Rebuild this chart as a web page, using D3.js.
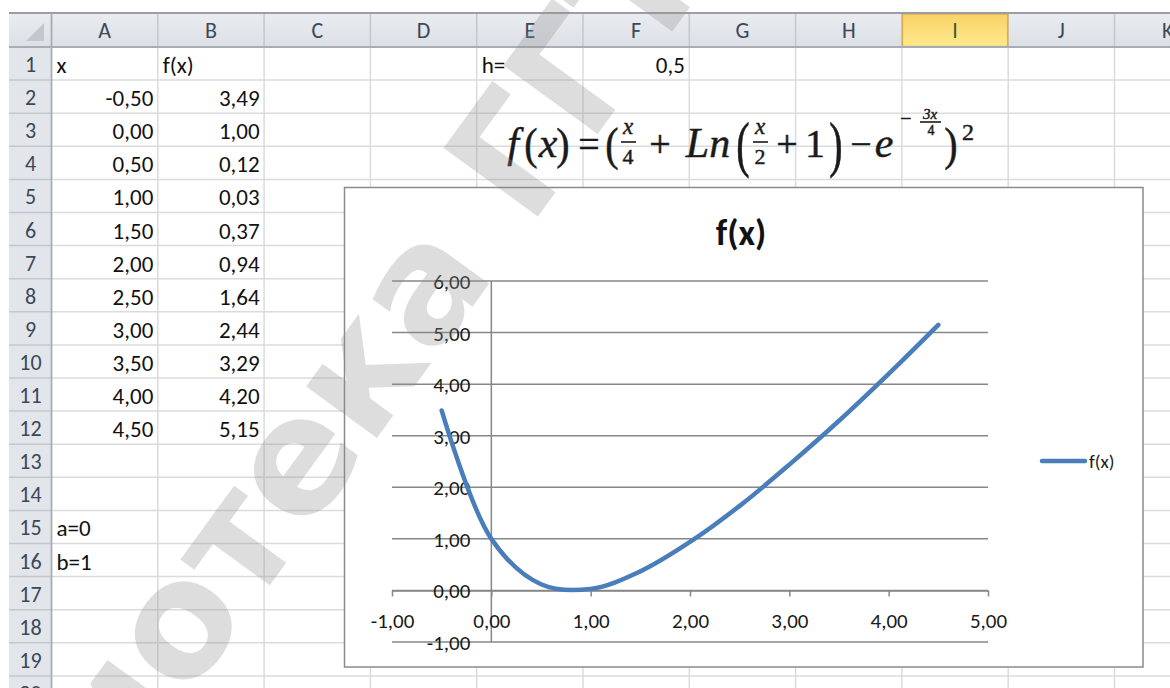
<!DOCTYPE html>
<html>
<head>
<meta charset="utf-8">
<script src="https://cdn.jsdelivr.net/npm/d3@7"></script>
<style>
  html, body { margin: 0; padding: 0; background: #ffffff; }
  svg { display: block; }
</style>
</head>
<body>
<svg id="sheet" width="1170" height="688"></svg>
<script>
// ---- data ----
const xValues = [-0.5, 0, 0.5, 1, 1.5, 2, 2.5, 3, 3.5, 4, 4.5];
const fValues = [3.49, 1.00, 0.12, 0.03, 0.37, 0.94, 1.64, 2.44, 3.29, 4.20, 5.15];
const columnLetters = ["A", "B", "C", "D", "E", "F", "G", "H", "I", "J", "K"];
const rowNumbers = d3.range(1, 21);
const xTicks = [-1, 0, 1, 2, 3, 4, 5];
const yTicks = [-1, 0, 1, 2, 3, 4, 5, 6];
const seriesName = "f(x)";
const stepLabel = "h=";
const stepValue = 0.5;
const boundLabels = ["a=0", "b=1"];
const selectedColumn = "I";

// ---- helpers ----
const ru = d3.formatLocale({ decimal: ",", thousands: " ", grouping: [3], currency: ["", " ₽"], minus: "-" });
const fmt2 = ru.format(".2f");
const fmtStep = ru.format(".1f");

const svg = d3.select("#sheet");
const W = 1170, H = 688;
const uiFont = "Carlito, Calibri, Roboto, sans-serif";

// ---- spreadsheet grid ----
const sheetLeft = 9, headTop = 13, headBottom = 47, rowHeadRight = 51.5;
const colW = 106.3, rowH = 33.1;
const colX = i => rowHeadRight + i * colW;
const rowY = r => headBottom + (r - 1) * rowH;

const defs = svg.append("defs");
const hg = defs.append("linearGradient").attr("id", "headGrad").attr("x1", 0).attr("y1", 0).attr("x2", 0).attr("y2", 1);
hg.append("stop").attr("offset", "0%").attr("stop-color", "#e9ecf0");
hg.append("stop").attr("offset", "100%").attr("stop-color", "#dce0e6");
const sg = defs.append("linearGradient").attr("id", "selGrad").attr("x1", 0).attr("y1", 0).attr("x2", 0).attr("y2", 1);
sg.append("stop").attr("offset", "0%").attr("stop-color", "#f8d266");
sg.append("stop").attr("offset", "100%").attr("stop-color", "#feea8e");

svg.append("rect").attr("width", W).attr("height", H).attr("fill", "#ffffff");

// cell gridlines
const grid = svg.append("g").attr("stroke", "#dadbdc").attr("stroke-width", 1.5);
columnLetters.forEach((c, i) => {
  grid.append("line").attr("x1", colX(i + 1)).attr("x2", colX(i + 1)).attr("y1", headBottom).attr("y2", H);
});
rowNumbers.forEach(r => {
  grid.append("line").attr("x1", rowHeadRight).attr("x2", W).attr("y1", rowY(r + 1)).attr("y2", rowY(r + 1));
});

// column and row headers
svg.append("rect").attr("x", sheetLeft).attr("y", headTop).attr("width", W - sheetLeft).attr("height", headBottom - headTop).attr("fill", "url(#headGrad)");
svg.append("rect").attr("x", sheetLeft).attr("y", headBottom).attr("width", rowHeadRight - sheetLeft).attr("height", H - headBottom).attr("fill", "#e2e6eb");

const headLines = svg.append("g").attr("stroke", "#c3c8cf").attr("stroke-width", 1.5);
columnLetters.forEach((c, i) => {
  headLines.append("line").attr("x1", colX(i + 1)).attr("x2", colX(i + 1)).attr("y1", headTop).attr("y2", headBottom);
});
rowNumbers.forEach(r => {
  headLines.append("line").attr("x1", sheetLeft).attr("x2", rowHeadRight).attr("y1", rowY(r + 1)).attr("y2", rowY(r + 1));
});

const si = columnLetters.indexOf(selectedColumn);
svg.append("rect").attr("x", colX(si) + 0.5).attr("y", headTop + 1).attr("width", colW - 1).attr("height", headBottom - headTop - 1.5)
  .attr("fill", "url(#selGrad)").attr("stroke", "#dfae4c").attr("stroke-width", 1.5);

svg.append("line").attr("x1", sheetLeft).attr("x2", W).attr("y1", headTop).attr("y2", headTop).attr("stroke", "#9b9ea3").attr("stroke-width", 2);
svg.append("line").attr("x1", sheetLeft).attr("x2", W).attr("y1", headBottom).attr("y2", headBottom).attr("stroke", "#a7adb5").attr("stroke-width", 1.8);
svg.append("line").attr("x1", rowHeadRight).attr("x2", rowHeadRight).attr("y1", headTop).attr("y2", H).attr("stroke", "#a7adb5").attr("stroke-width", 1.8);
svg.append("path").attr("d", "M26,41 L44,41 L44,23 Z").attr("fill", "#c3c7cd");

svg.append("g").selectAll("text").data(columnLetters).join("text")
  .attr("x", (d, i) => colX(i) + colW / 2).attr("y", 38)
  .attr("text-anchor", "middle").attr("font-family", uiFont).attr("font-size", 22)
  .attr("fill", d => d === selectedColumn ? "#3f5a3c" : "#3b4859").text(d => d);

svg.append("g").selectAll("text").data(rowNumbers).join("text")
  .attr("x", 30.5).attr("y", r => rowY(r) + 25)
  .attr("text-anchor", "middle").attr("font-family", uiFont).attr("font-size", 22)
  .attr("fill", "#3b4859").text(r => r);

// cell contents
const cells = svg.append("g").attr("font-family", uiFont).attr("font-size", 23).attr("fill", "#111");
const cellText = (col, row, txt, align) => {
  const ci = columnLetters.indexOf(col);
  cells.append("text")
    .attr("x", align === "right" ? colX(ci + 1) - 4.5 : colX(ci) + 5)
    .attr("y", rowY(row) + 26)
    .attr("text-anchor", align === "right" ? "end" : "start")
    .text(txt);
};
cellText("A", 1, "x", "left");
cellText("B", 1, seriesName, "left");
xValues.forEach((v, i) => cellText("A", i + 2, fmt2(v), "right"));
fValues.forEach((v, i) => cellText("B", i + 2, fmt2(v), "right"));
cellText("E", 1, stepLabel, "left");
cellText("F", 1, fmtStep(stepValue), "right");
cellText("A", 15, boundLabels[0], "left");
cellText("A", 16, boundLabels[1], "left");

// ---- formula object ----
const fm = svg.append("g").attr("font-family", "'Liberation Serif', 'DejaVu Serif', serif")
  .attr("fill", "#1a1a1a").attr("stroke", "#1a1a1a").attr("stroke-width", 0.45);
const put = (x, y, s, size, italic, sy) => {
  const t = fm.append("text").attr("text-anchor", "middle").attr("font-size", size)
    .attr("font-style", italic ? "italic" : "normal").text(s);
  if (sy) {
    t.attr("transform", `translate(${x},145) scale(1,${sy})`).attr("x", 0).attr("y", y);
  } else {
    t.attr("x", x).attr("y", y);
  }
};
const bar = (x1, x2, y) => fm.append("line").attr("x1", x1).attr("x2", x2).attr("y1", y).attr("y2", y).attr("stroke", "#1a1a1a").attr("stroke-width", 1.6);
const base = 157;
put(513, base, "f", 42, true);
put(531, 13, "(", 40, false, 1.1);
put(548, base, "x", 42, true);
put(563, 13, ")", 40, false, 1.1);
put(589, base, "=", 38, false);
put(612, 13, "(", 40, false, 1.15);
put(628, 134, "x", 23, true); bar(621, 636, 142); put(628, 164, "4", 22, false);
put(660, base, "+", 38, false);
put(708, base, "Ln", 42, true);
put(743, 13, "(", 40, false, 1.55);
put(760, 134, "x", 23, true); bar(753, 768, 142); put(760, 164, "2", 22, false);
put(787, base, "+", 38, false);
put(815, base, "1", 40, false);
put(836, 13, ")", 40, false, 1.55);
put(861, base, "−", 38, false);
put(884, base, "e", 42, true);
put(906, 125, "−", 20, false);
put(930, 119, "3x", 15, true); bar(920, 941, 122); put(931, 135, "4", 14, false);
put(951, 13, ")", 40, false, 1.15);
put(968, 140, "2", 24, false);

// ---- chart object ----
const chart = svg.append("g");
chart.append("rect").attr("x", 344.5).attr("y", 187.5).attr("width", 798.5).attr("height", 479.5)
  .attr("fill", "#ffffff").attr("stroke", "#8a8a8a").attr("stroke-width", 1.5);

const x = d3.scaleLinear().domain([-1, 5]).range([392, 988]);
const y = d3.scaleLinear().domain([-1, 6]).range([642, 281]);

// horizontal gridlines
chart.append("g").selectAll("line").data(yTicks).join("line")
  .attr("x1", x(-1)).attr("x2", x(5)).attr("y1", d => y(d)).attr("y2", d => y(d))
  .attr("stroke", "#878787").attr("stroke-width", 1.5);

// vertical axis through x = 0
chart.append("line").attr("x1", x(0)).attr("x2", x(0)).attr("y1", y(6)).attr("y2", y(-1))
  .attr("stroke", "#878787").attr("stroke-width", 1.5);

// horizontal axis through y = 0
const xAxis = chart.append("g").attr("transform", `translate(0,${y(0)})`)
  .call(d3.axisBottom(x).tickValues(xTicks).tickFormat(fmt2).tickSize(6).tickSizeOuter(0).tickPadding(17));
xAxis.select(".domain").attr("stroke", "#878787").attr("stroke-width", 1.5);
xAxis.selectAll(".tick line").attr("stroke", "#878787").attr("stroke-width", 1.5);
xAxis.selectAll(".tick text").attr("font-family", uiFont).attr("font-size", 21).attr("fill", "#1a1a1a");

const yAxis = chart.append("g").attr("transform", `translate(${x(0)},0)`)
  .call(d3.axisLeft(y).tickValues(yTicks).tickFormat(fmt2).tickSize(0).tickPadding(21));
yAxis.select(".domain").remove();
yAxis.selectAll(".tick text").attr("font-family", uiFont).attr("font-size", 21).attr("fill", "#1a1a1a").attr("dy", "0.36em");

// smoothed series line
const points = xValues.map((v, i) => [v, fValues[i]]);
chart.append("path").datum(points)
  .attr("d", d3.line().x(d => x(d[0])).y(d => y(d[1])).curve(d3.curveCatmullRom.alpha(0.5)))
  .attr("fill", "none").attr("stroke", "#4a7ebb").attr("stroke-width", 4.5).attr("stroke-linecap", "round");

// title
chart.append("text").attr("x", 741).attr("y", 245).attr("text-anchor", "middle")
  .attr("font-family", uiFont).attr("font-weight", "bold").attr("font-size", 36).attr("fill", "#111").text(seriesName);

// legend
chart.append("line").attr("x1", 1042).attr("x2", 1085).attr("y1", 461).attr("y2", 461)
  .attr("stroke", "#4a7ebb").attr("stroke-width", 4.5).attr("stroke-linecap", "round");
chart.append("text").attr("x", 1089).attr("y", 461).attr("dy", "0.36em")
  .attr("font-family", uiFont).attr("font-size", 19).attr("fill", "#1a1a1a").text(seriesName);

// ---- library stamp ----
svg.append("text").attr("transform", "translate(272,488) rotate(-54)")
  .attr("text-anchor", "middle").attr("dominant-baseline", "central")
  .attr("font-family", "'DejaVu Sans', sans-serif").attr("font-weight", "bold").attr("font-size", 160)
  .attr("fill", "#8f8f8f").attr("fill-opacity", 0.3).text("Библиотека ГГТУ");
</script>
</body>
</html>
